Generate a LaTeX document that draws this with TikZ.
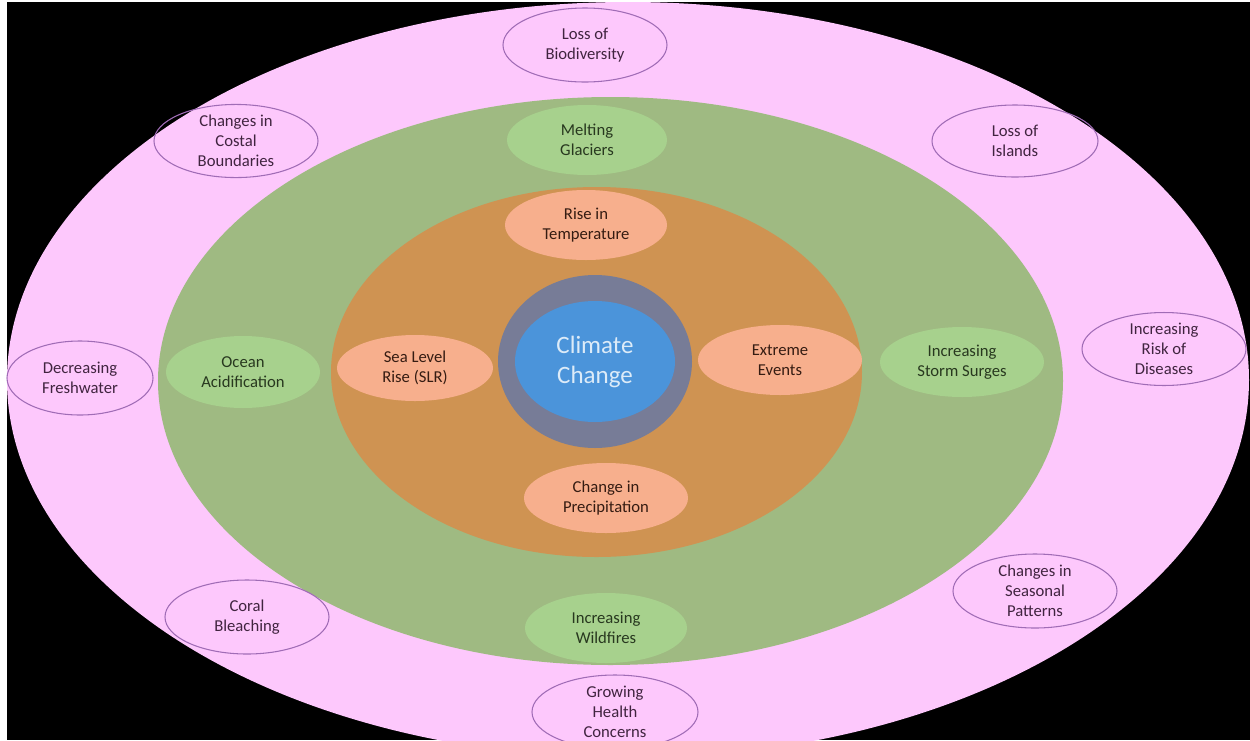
\documentclass[tikz,border=0pt]{standalone}
\usepackage{fontspec}
\setmainfont{Carlito}
\usetikzlibrary{shapes.geometric}
\definecolor{pinkbg}{HTML}{FDC8FC}
\definecolor{greenbg}{HTML}{9FBA82}
\definecolor{orangebg}{HTML}{CF9352}
\definecolor{grayring}{HTML}{777C97}
\definecolor{bluecore}{HTML}{4B94DA}
\definecolor{orangebub}{HTML}{F7AF8D}
\definecolor{greenbub}{HTML}{A7D18D}
\definecolor{bubline}{HTML}{A06CB6}
\definecolor{pinktext}{HTML}{40243F}
\definecolor{greentext}{HTML}{28381F}
\definecolor{orangetext}{HTML}{351C12}
\definecolor{coretext}{HTML}{DCEBF8}
\begin{document}
\begin{tikzpicture}[x=0.75pt,y=-0.75pt,
  sz/.style 2 args={minimum width=#1*0.75pt, minimum height=#2*0.75pt},
  ring/.style={ellipse, inner sep=0pt},
  blob/.style={ellipse, inner sep=0pt, align=center, font=\fontsize{12.5}{15}\selectfont},
  outerbub/.style={blob, draw=bubline, line width=0.8pt, text=pinktext},
  midbub/.style={blob, fill=greenbub, text=greentext},
  innerbub/.style={blob, fill=orangebub, text=orangetext}]
\useasboundingbox (0,0) rectangle (1250,740);
\clip (0,0) rectangle (1250,740);
\fill[white] (0,0) rectangle (1250,740);
\fill[black] (7,2) rectangle (1250,740);
% rings
\node[ring, fill=pinkbg, sz={1242}{756}] (outer) at (628,380) {};
\node[ring, fill=greenbg, sz={905}{568}] (middle) at (610.5,381) {};
\node[ring, fill=orangebg, sz={531}{370}] (inner) at (596.5,372) {};
\node[ring, fill=grayring, sz={194}{173}] (halo) at (595,361.5) {};
\node[ring, fill=bluecore, sz={160}{121}, text=coretext, align=center,
  font=\fontsize{18.75}{22.5}\selectfont] (core) at (595,361.5) {Climate\\Change};
% inner bubbles
\node[innerbub, sz={162}{70}] (temp) at (586,225) {Rise in\\Temperature};
\node[innerbub, sz={156}{66}] (slr) at (415,368) {Sea Level\\Rise (SLR)};
\node[innerbub, sz={164}{70}] (extreme) at (780,360) {Extreme\\Events};
\node[innerbub, sz={164}{70}] (precip) at (606,498) {Change in\\Precipitation};
% middle bubbles
\node[midbub, sz={160}{70}] (glaciers) at (587,140) {Melting\\Glaciers};
\node[midbub, sz={154}{72}] (ocean) at (243,372) {Ocean\\Acidification};
\node[midbub, sz={164}{70}] (storm) at (962,362) {Increasing\\Storm Surges};
\node[midbub, sz={162}{70}] (fires) at (606,628) {Increasing\\Wildfires};
% outer bubbles
\node[outerbub, sz={164}{74}] (biodiv) at (585,45) {Loss of\\Biodiversity};
\node[outerbub, sz={164}{72}] (coast) at (236,141) {Changes in\\Costal\\Boundaries};
\node[outerbub, sz={166}{72}] (islands) at (1015,141) {Loss of\\Islands};
\node[outerbub, sz={146}{74}] (fresh) at (80,378) {Decreasing\\Freshwater};
\node[outerbub, sz={164}{72}] (disease) at (1164,349) {Increasing\\Risk of\\Diseases};
\node[outerbub, sz={164}{74}] (coral) at (247,617) {Coral\\Bleaching};
\node[outerbub, sz={164}{74}] (season) at (1035,591) {Changes in\\Seasonal\\Patterns};
\node[outerbub, sz={166}{74}] (health) at (615,712) {Growing\\Health\\Concerns};
\end{tikzpicture}
\end{document}
